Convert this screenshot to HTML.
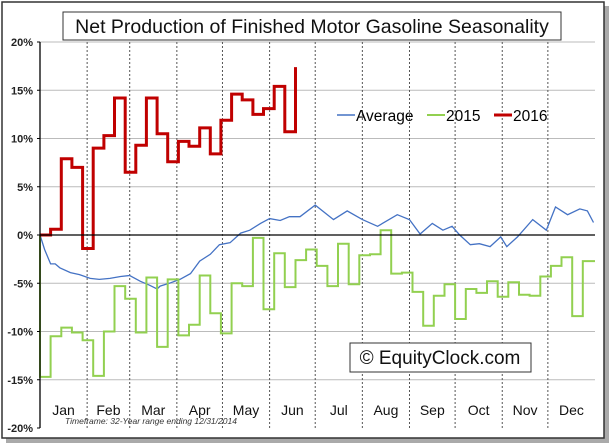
<!DOCTYPE html>
<html><head><meta charset="utf-8"><style>
body{margin:0;background:#fff}
svg{display:block;font-family:"Liberation Sans",sans-serif}
</style></head><body>
<svg width="613" height="447" viewBox="0 0 613 447">
<rect x="6" y="6" width="603" height="437" fill="#555" opacity="0.5"/>
<rect x="2" y="2" width="602" height="436" fill="#fff" stroke="#333" stroke-width="1.5"/>
<g id="grid"></g>
<g id="series"></g>
<g id="axes"></g>
<rect x="63" y="12" width="498" height="28" fill="#fff" stroke="#333"/>
<text x="312" y="33" font-size="19.5" text-anchor="middle" fill="#111">Net Production of Finished Motor Gasoline Seasonality</text>
<g>
<line x1="337" y1="115" x2="355" y2="115" stroke="#4472c4" stroke-width="1.5"/>
<text x="356" y="121" font-size="15.5">Average</text>
<line x1="427" y1="115" x2="445" y2="115" stroke="#92d050" stroke-width="2"/>
<text x="446" y="121" font-size="15.5">2015</text>
<line x1="494" y1="115" x2="512" y2="115" stroke="#c00000" stroke-width="3"/>
<text x="513" y="121" font-size="15.5">2016</text>
</g>
<rect x="350" y="343" width="181" height="29" fill="#fff" stroke="#333"/>
<text x="440" y="364" font-size="19" text-anchor="middle" fill="#111">© EquityClock.com</text>
<text x="65" y="424" font-size="8.5" font-style="italic" fill="#333">Timeframe: 32-Year range ending 12/31/2014</text>
</svg>
<script>
const yTicks=[20,15,10,5,0,-5,-10,-15,-20];
const monthLabels=["Jan","Feb","Mar","Apr","May","Jun","Jul","Aug","Sep","Oct","Nov","Dec"];
const monthStarts=[0,31,59,90,120,151,181,212,243,273,304,334,365];
const avgDays=[0,3,7,10,13,20,26,33,39,46,53,59,66,72,77,79,85,92,99,105,112,118,125,132,138,145,151,158,164,171,181,193,202,212,222,235,243,250,258,265,271,276,283,289,296,303,307,314,324,333,339,347,355,360,364];
const avgVals=[0,-1.5,-3.0,-3.0,-3.4,-3.9,-4.1,-4.5,-4.6,-4.5,-4.3,-4.2,-4.8,-5.2,-5.6,-5.3,-5.0,-4.6,-4.0,-2.7,-2.0,-1.0,-0.8,0.2,0.5,1.2,1.7,1.5,1.9,1.9,3.1,1.6,2.5,1.6,0.9,2.1,1.6,0.1,1.2,0.5,0.9,0,-1.0,-0.9,-1.2,-0.2,-1.2,-0.2,1.6,0.5,2.9,2.1,2.7,2.5,1.3];
const v2015=[-14.7,-10.5,-9.6,-10.1,-10.9,-14.6,-10.0,-5.3,-6.6,-10.1,-4.4,-11.6,-4.6,-10.4,-9.3,-4.2,-8.1,-10.2,-5.0,-5.3,-0.3,-7.7,-1.9,-5.4,-2.6,-1.5,-3.2,-5.3,-0.9,-5.1,-2.1,-2.0,0.5,-4.0,-3.9,-5.9,-9.4,-6.3,-5.1,-8.7,-5.6,-6.0,-4.8,-6.4,-4.9,-6.2,-6.3,-4.3,-3.2,-2.3,-8.4,-2.7];
const v2016=[0,0.6,7.9,7.0,-1.4,9.0,10.3,14.2,6.5,9.3,14.2,10.5,7.6,9.7,9.2,11.1,8.4,11.9,14.6,14.0,12.5,13.1,15.4,10.7,17.4];

const NS="http://www.w3.org/2000/svg";
const X0=40,X1=595,Y0=235,PY=9.65;
const xs=d=>X0+d*(X1-X0)/365;
const ys=v=>Y0-v*PY;
const W=7;
function mk(tag,attrs,parent){const e=document.createElementNS(NS,tag);for(const k in attrs)e.setAttribute(k,attrs[k]);document.getElementById(parent).appendChild(e);return e;}
yTicks.forEach(t=>{
  if(t!==0&&t!==-20){const g=mk('line',{x1:X0,x2:X1,y1:ys(t),y2:ys(t),stroke:'#bbb','stroke-width':1},'grid');
  
  }
  const l=mk('text',{x:33,y:ys(t)+4,'font-size':11,'font-weight':'bold','text-anchor':'end',fill:'#222'},'axes');
  l.textContent=t+'%';
  
  
  const tk=mk('line',{x1:X0-3,x2:X0,y1:ys(t),y2:ys(t),stroke:'#000'},'axes');
  
  
});
monthStarts.slice(1,12).forEach(d=>{
  const g=mk('line',{x1:xs(d),x2:xs(d),y1:ys(20),y2:ys(-20),stroke:'#555','stroke-dasharray':'2,2','stroke-width':1},'grid');
  
  
});
monthLabels.forEach((m,i)=>{
  const t=mk('text',{x:(xs(monthStarts[i])+xs(monthStarts[i+1]))/2,y:415,'font-size':14,'text-anchor':'middle',fill:'#111'},'axes');
  t.textContent=m;
  
  
});
const za=mk('line',{x1:X0,x2:X1,y1:Y0,y2:Y0,stroke:'#000','stroke-width':1.3},'axes');


const ya=mk('line',{x1:X0,x2:X0,y1:ys(20),y2:ys(-20),stroke:'#000','stroke-width':1.3},'axes');



let p='M'+xs(avgDays[0])+','+ys(avgVals[0]);
for(let i=1;i<avgDays.length;i++)p+=' L'+xs(avgDays[i]).toFixed(1)+','+ys(avgVals[i]).toFixed(1);
const a=mk('path',{d:p,fill:'none',stroke:'#4472c4','stroke-width':1.3},'series');



let s15='M'+xs(0)+','+ys(0);
v2015.forEach((v,i)=>{s15+=' L'+xs(i*W).toFixed(1)+','+ys(v).toFixed(1)+' L'+xs(i===v2015.length-1?365:(i+1)*W).toFixed(1)+','+ys(v).toFixed(1);});
const g15=mk('path',{d:s15,fill:'none',stroke:'#92d050','stroke-width':2},'series');


let s16='M'+xs(0)+','+ys(v2016[0]);
v2016.forEach((v,i)=>{s16+=' L'+xs(i*W).toFixed(1)+','+ys(v).toFixed(1);if(i<v2016.length-1)s16+=' L'+xs((i+1)*W).toFixed(1)+','+ys(v).toFixed(1);});
const r16=mk('path',{d:s16,fill:'none',stroke:'#c00000','stroke-width':3},'series');


</script>
</body></html>
